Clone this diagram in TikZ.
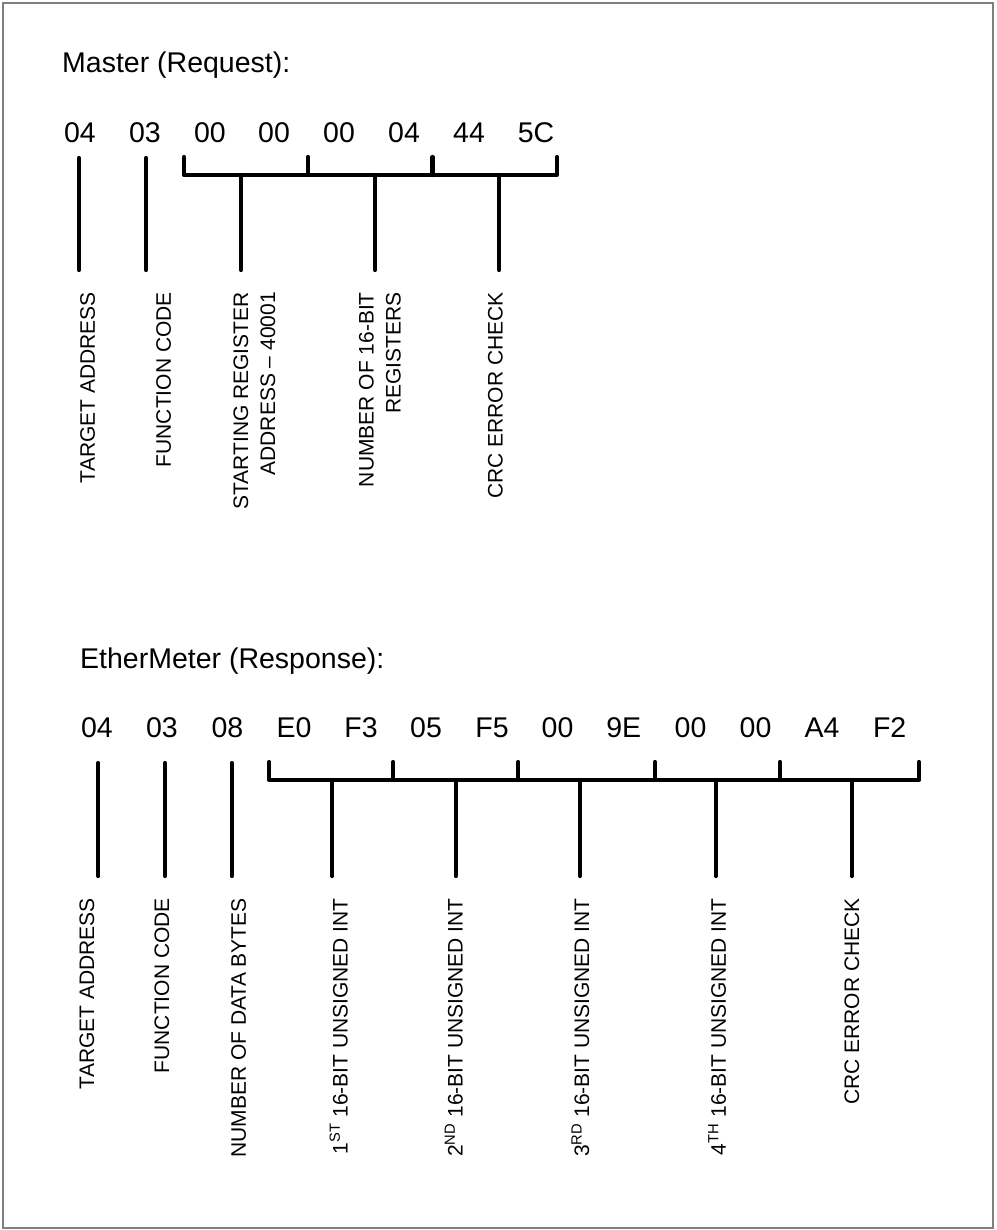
\documentclass[tikz,border=0pt]{standalone}
\usepackage{fontspec}
\setmainfont{Liberation Sans}
\usepackage{tikz}
\newcommand\bytefont{\fontsize{28.5}{34}\selectfont}
\newcommand\lblfont{\fontsize{21}{27}\selectfont}
\tikzset{
  hexbyte/.style={font=\bytefont, anchor=base, inner sep=0pt},
  headline/.style={font=\bytefont, anchor=base west, inner sep=0pt},
  fieldlbl/.style={font=\lblfont, rotate=90, anchor=base east, inner sep=0pt},
  fieldlbltwo/.style={font=\lblfont, rotate=90, anchor=east, align=right, inner sep=0pt},
  bar/.style={line width=4.2pt, line cap=round, line join=round}
}

\begin{document}
\begin{tikzpicture}[x=1pt,y=-1pt]
\useasboundingbox (0,0) rectangle (996,1230);
\draw [gray, line width=1.2pt] (3,3) rectangle (993,1228);
\node [headline] (mtitle) at (62,73) {Master (Request):};
\node [hexbyte] (m1) at (80,143) {04};
\node [hexbyte] (m2) at (145,143) {03};
\node [hexbyte] (m3) at (210,143) {00};
\node [hexbyte] (m4) at (274,143) {00};
\node [hexbyte] (m5) at (339,143) {00};
\node [hexbyte] (m6) at (404,143) {04};
\node [hexbyte] (m7) at (469,143) {44};
\node [hexbyte] (m8) at (536,143) {5C};
\draw [bar] (79,158) -- (79,270);
\draw [bar] (146,158) -- (146,270);
\draw [bar] (184,157) -- (184,175) -- (557,175) -- (557,157);
\draw [bar] (308,157) -- (308,175);
\draw [bar] (432.5,157) -- (432.5,175);
\draw [bar] (241,175) -- (241,270);
\draw [bar] (375,175) -- (375,270);
\draw [bar] (499,175) -- (499,270);
\node [fieldlbl] (mtarget) at (94.8,292) {TARGET ADDRESS};
\node [fieldlbl] (mfunc) at (170.8,292) {FUNCTION CODE};
\node [fieldlbltwo] (mstart) at (254.5,292) {STARTING REGISTER\\ADDRESS – 40001};
\node [fieldlbltwo] (mcount) at (380,292) {NUMBER OF 16-BIT\\REGISTERS};
\node [fieldlbl] (mcrc) at (502.5,292) {CRC ERROR CHECK};
\node [headline] (rtitle) at (80,668) {EtherMeter (Response):};
\node [hexbyte] (r1) at (97,737.7) {04};
\node [hexbyte] (r2) at (162,737.7) {03};
\node [hexbyte] (r3) at (227.5,737.7) {08};
\node [hexbyte] (r4) at (294,737.7) {E0};
\node [hexbyte] (r5) at (361,737.7) {F3};
\node [hexbyte] (r6) at (426,737.7) {05};
\node [hexbyte] (r7) at (492,737.7) {F5};
\node [hexbyte] (r8) at (557.5,737.7) {00};
\node [hexbyte] (r9) at (623.7,737.7) {9E};
\node [hexbyte] (r10) at (690.5,737.7) {00};
\node [hexbyte] (r11) at (755.5,737.7) {00};
\node [hexbyte] (r12) at (822,737.7) {A4};
\node [hexbyte] (r13) at (889.7,737.7) {F2};
\draw [bar] (98.3,763) -- (98.3,876);
\draw [bar] (165,763) -- (165,876);
\draw [bar] (231.7,763) -- (231.7,876);
\draw [bar] (269.3,762) -- (269.3,780) -- (919,780) -- (919,762);
\draw [bar] (393.3,762) -- (393.3,780);
\draw [bar] (518.3,762) -- (518.3,780);
\draw [bar] (655,762) -- (655,780);
\draw [bar] (780,762) -- (780,780);
\draw [bar] (332.3,780) -- (332.3,876);
\draw [bar] (455.7,780) -- (455.7,876);
\draw [bar] (580,780) -- (580,876);
\draw [bar] (715.7,780) -- (715.7,876);
\draw [bar] (851.7,780) -- (851.7,876);
\node [fieldlbl] (rtarget) at (94.2,898) {TARGET ADDRESS};
\node [fieldlbl] (rfunc) at (169.2,898) {FUNCTION CODE};
\node [fieldlbl] (rcount) at (245.8,898) {NUMBER OF DATA BYTES};
\node [fieldlbl] (rint1) at (347.5,898) {1\textsuperscript{ST} 16-BIT UNSIGNED INT};
\node [fieldlbl] (rint2) at (462.5,898) {2\textsuperscript{ND} 16-BIT UNSIGNED INT};
\node [fieldlbl] (rint3) at (589.2,898) {3\textsuperscript{RD} 16-BIT UNSIGNED INT};
\node [fieldlbl] (rint4) at (725.8,898) {4\textsuperscript{TH} 16-BIT UNSIGNED INT};
\node [fieldlbl] (rcrc) at (859.2,898) {CRC ERROR CHECK};
\end{tikzpicture}
\end{document}
